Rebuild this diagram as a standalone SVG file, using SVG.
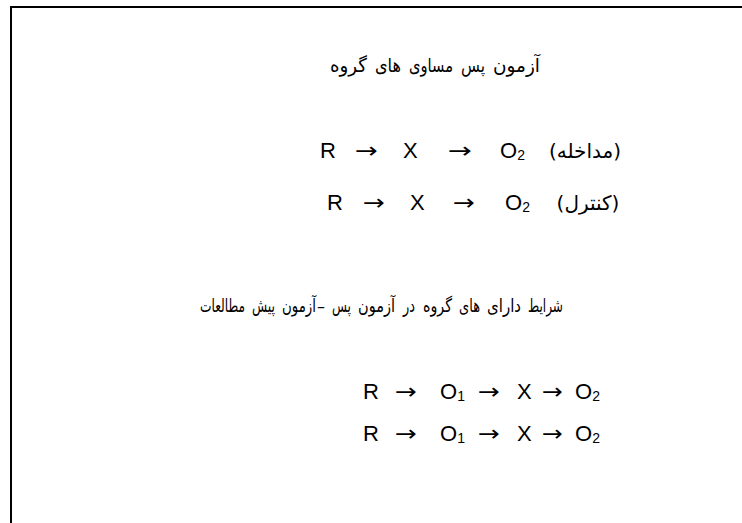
<svg xmlns="http://www.w3.org/2000/svg" width="742" height="523" viewBox="0 0 742 523">
<style>
.lat{font-family:"Liberation Sans",Arial,sans-serif;font-size:22px;fill:#000}
.sub{font-size:14px}
.arr{font-family:"DejaVu Sans",sans-serif;font-size:22px;fill:#000}
.ar{font-family:"DejaVu Sans","Noto Sans",sans-serif;font-size:19px;fill:#000}
.ar1{font-family:"DejaVu Sans","Noto Sans",sans-serif;font-size:20px;fill:#000}
.ar2{font-family:"DejaVu Sans","Noto Sans",sans-serif;font-size:18.5px;fill:#000}
</style>
<rect width="742" height="523" fill="#fff"/>
<path d="M11,530 V7 H760" fill="none" stroke="#000" stroke-width="2"/>
<g id="title">
<text class="ar" x="330" y="72" textLength="37" lengthAdjust="spacingAndGlyphs">گروه</text>
<text class="ar" x="375" y="72" textLength="26" lengthAdjust="spacingAndGlyphs">های</text>
<text class="ar" x="409" y="72" textLength="44" lengthAdjust="spacingAndGlyphs">مساوی</text>
<text class="ar" x="461" y="72" textLength="24" lengthAdjust="spacingAndGlyphs">پس</text>
<text class="ar" x="493" y="72" textLength="47" lengthAdjust="spacingAndGlyphs">آزمون</text>
</g>
<g id="row1">
<text class="lat" x="320" y="158">R</text>
<text class="arr" x="355" y="158" textLength="23" lengthAdjust="spacingAndGlyphs">→</text>
<text class="lat" x="403" y="158">X</text>
<text class="arr" x="448" y="158" textLength="24" lengthAdjust="spacingAndGlyphs">→</text>
<text class="lat" x="500" y="158">O<tspan class="sub" dy="2">2</tspan></text>
<text class="ar1" x="585" y="158" text-anchor="middle">(مداخله)</text>
</g>
<g id="row2">
<text class="lat" x="327" y="210">R</text>
<text class="arr" x="363" y="210" textLength="22" lengthAdjust="spacingAndGlyphs">→</text>
<text class="lat" x="410" y="210">X</text>
<text class="arr" x="453" y="210" textLength="22" lengthAdjust="spacingAndGlyphs">→</text>
<text class="lat" x="505" y="210">O<tspan class="sub" dy="2">2</tspan></text>
<text class="ar1" x="588" y="210" text-anchor="middle">(کنترل)</text>
</g>
<g id="heading2">
<text class="ar2" x="200" y="312" textLength="45" lengthAdjust="spacingAndGlyphs">مطالعات</text>
<text class="ar2" x="252" y="312" textLength="23" lengthAdjust="spacingAndGlyphs">پیش</text>
<text class="ar2" x="282" y="312" textLength="34" lengthAdjust="spacingAndGlyphs">آزمون</text>
<text class="ar2" x="317" y="312" textLength="8" lengthAdjust="spacingAndGlyphs">–</text>
<text class="ar2" x="332" y="312" textLength="19" lengthAdjust="spacingAndGlyphs">پس</text>
<text class="ar2" x="358" y="312" textLength="37" lengthAdjust="spacingAndGlyphs">آزمون</text>
<text class="ar2" x="403" y="312" textLength="12" lengthAdjust="spacingAndGlyphs">در</text>
<text class="ar2" x="423" y="312" textLength="29" lengthAdjust="spacingAndGlyphs">گروه</text>
<text class="ar2" x="459" y="312" textLength="21" lengthAdjust="spacingAndGlyphs">های</text>
<text class="ar2" x="487" y="312" textLength="34" lengthAdjust="spacingAndGlyphs">دارای</text>
<text class="ar2" x="528" y="312" textLength="35" lengthAdjust="spacingAndGlyphs">شرایط</text>
</g>
<g id="row4">
<text class="lat" x="363" y="399">R</text>
<text class="arr" x="395" y="399" textLength="22" lengthAdjust="spacingAndGlyphs">→</text>
<text class="lat" x="440" y="399">O<tspan class="sub" dy="2">1</tspan></text>
<text class="arr" x="478" y="399" textLength="22" lengthAdjust="spacingAndGlyphs">→</text>
<text class="lat" x="517" y="399">X</text>
<text class="arr" x="542" y="399" textLength="21" lengthAdjust="spacingAndGlyphs">→</text>
<text class="lat" x="575" y="399">O<tspan class="sub" dy="2">2</tspan></text>
</g>
<g id="row5">
<text class="lat" x="363" y="441">R</text>
<text class="arr" x="395" y="441" textLength="22" lengthAdjust="spacingAndGlyphs">→</text>
<text class="lat" x="440" y="441">O<tspan class="sub" dy="2">1</tspan></text>
<text class="arr" x="478" y="441" textLength="22" lengthAdjust="spacingAndGlyphs">→</text>
<text class="lat" x="517" y="441">X</text>
<text class="arr" x="542" y="441" textLength="21" lengthAdjust="spacingAndGlyphs">→</text>
<text class="lat" x="575" y="441">O<tspan class="sub" dy="2">2</tspan></text>
</g>
</svg>
